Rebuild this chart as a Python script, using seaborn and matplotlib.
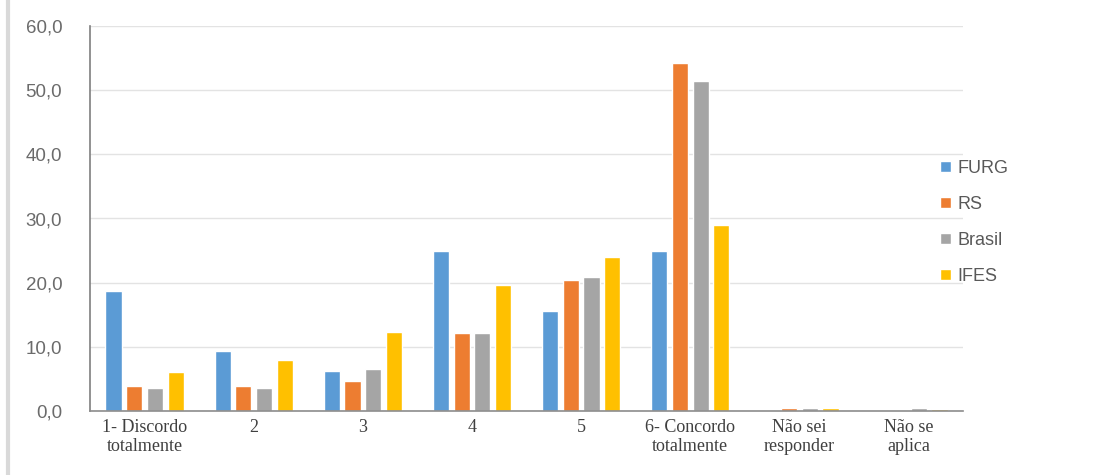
import numpy as np
import pandas as pd
import matplotlib
matplotlib.use("Agg")
import matplotlib.pyplot as plt
import seaborn as sns
from matplotlib.lines import Line2D
from matplotlib.ticker import FuncFormatter

# ===================================================================
# Data
# ===================================================================
categories = [
    "1- Discordo\ntotalmente", "2", "3", "4", "5",
    "6- Concordo\ntotalmente", "Não sei\nresponder", "Não se\naplica",
]
series_names = ["FURG", "RS", "Brasil", "IFES"]
furg = [18.7, 9.3, 6.2, 25.0, 15.6, 25.0, 0.0, 0.0]
rs = [3.9, 3.9, 4.6, 12.2, 20.4, 54.2, 0.4, 0.0]
brasil = [3.6, 3.6, 6.6, 12.2, 20.9, 51.4, 0.4, 0.4]
ifes = [6.1, 7.9, 12.3, 19.6, 24.0, 29.0, 0.4, 0.3]
y_ticks = [0, 10, 20, 30, 40, 50, 60]

COLORS = ["#5B9BD5", "#ED7D31", "#A5A5A5", "#FFC000"]

df = pd.DataFrame({
    "categoria": categories * 4,
    "serie": np.repeat(series_names, len(categories)),
    "valor": furg + rs + brasil + ifes,
})

# ===================================================================
# Plot
# ===================================================================
sns.set_theme(style="white")
plt.rcParams["font.family"] = ["Liberation Sans", "DejaVu Sans"]

fig = plt.figure(figsize=(10.94, 4.75), dpi=100)
ax = fig.add_axes([0.0823, 0.1347, 0.798, 0.8106])

sns.barplot(
    data=df, x="categoria", y="valor", hue="serie",
    order=categories, hue_order=series_names, palette=COLORS,
    width=0.76, gap=0.22, ax=ax, saturation=1, legend=True,
)

ax.set_ylim(0, 60)
ax.set_xlim(-0.5, len(categories) - 0.5)
ax.set_yticks(y_ticks)
ax.yaxis.set_major_formatter(FuncFormatter(lambda v, p: f"{v:.1f}".replace(".", ",")))
ax.grid(axis="y", color="#E3E3E3", linewidth=1)
ax.set_axisbelow(True)
ax.set_xlabel("")
ax.set_ylabel("")

for s in ["top", "right"]:
    ax.spines[s].set_visible(False)
ax.spines["left"].set_color("#7F7F7F")
ax.spines["left"].set_linewidth(1.2)
ax.spines["bottom"].set_color("#8C8C8C")
ax.spines["bottom"].set_linewidth(1.2)

ax.tick_params(axis="y", length=0, labelsize=13.5, labelcolor="#6B6B6B", pad=20)
ax.tick_params(axis="x", length=0, labelsize=13, labelcolor="#404040", pad=6)
for lbl in ax.get_xticklabels():
    lbl.set_fontfamily("Liberation Serif")
    lbl.set_linespacing(1.1)

handles, labels = ax.get_legend_handles_labels()
leg = ax.legend(
    handles, labels, loc="center left", bbox_to_anchor=(0.965, 0.49),
    frameon=False, fontsize=13, labelspacing=1.05, borderaxespad=0,
    handlelength=0.6, handleheight=0.6, handletextpad=0.4,
)
for t in leg.get_texts():
    t.set_color("#595959")

# thin frame line at the left edge of the picture
fig.add_artist(Line2D([0.007, 0.007], [0, 1], color="#D9D9D9", linewidth=3,
                      transform=fig.transFigure))

fig.savefig("out.png", dpi=100, facecolor="white")
plt.close()
